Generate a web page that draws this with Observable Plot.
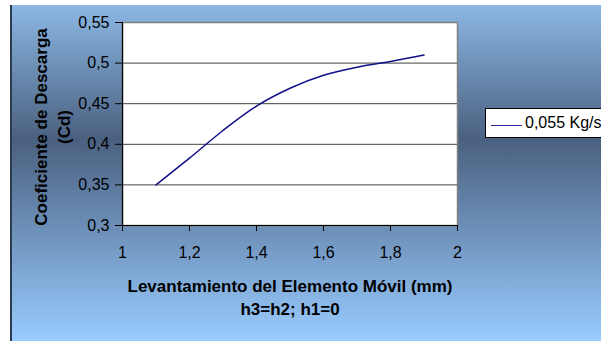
<!DOCTYPE html>
<html>
<head>
<meta charset="utf-8">
<script src="https://cdn.jsdelivr.net/npm/d3@7"></script>
<script src="https://cdn.jsdelivr.net/npm/@observablehq/plot@0.6"></script>
<style>
  html, body { margin: 0; padding: 0; background: #fff; }
  #wrap { position: relative; width: 601px; height: 341px; overflow: hidden; font-family: "Liberation Sans", Arial, sans-serif; }
  #bg { position: absolute; left: 11px; top: 5px; width: 590px; height: 336px;
        background: linear-gradient(to bottom, #8cb8e4 0%, #4a6080 40%, #99ccff 100%); }
  #edge { position: absolute; left: 10px; top: 5px; width: 2px; height: 336px; background: #2b3a4c; }
  #chart { position: absolute; left: 0; top: 0; }
  #legend { position: absolute; left: 485px; top: 108px; width: 140px; height: 30px;
            background: #fff; border: 1px solid #000; box-sizing: border-box; }
  #legend .sw { position: absolute; left: 5px; top: 16px; width: 31px; height: 0; border-top: 1.5px solid #2a2a9a; }
  #legend .lb { position: absolute; left: 39px; top: 5px; font-size: 16px; line-height: 18px; color: #000; white-space: nowrap; }
</style>
</head>
<body>
<div id="wrap">
  <div id="bg"></div>
  <div id="edge"></div>
  <div id="chart"></div>
  <div id="legend"><div class="sw"></div><div class="lb"></div></div>
</div>
<script>
// Data
const levantamiento = [1.1, 1.2, 1.3, 1.4, 1.5, 1.6, 1.7, 1.8, 1.9];
const coeficiente  = [0.350, 0.383, 0.417, 0.447, 0.469, 0.485, 0.495, 0.502, 0.510];
const seriesName = "0,055 Kg/s";
const xTicks = [1, 1.2, 1.4, 1.6, 1.8, 2];
const xTickLabels = ["1", "1,2", "1,4", "1,6", "1,8", "2"];
const yTicks = [0.3, 0.35, 0.4, 0.45, 0.5, 0.55];
const yTickLabels = ["0,3", "0,35", "0,4", "0,45", "0,5", "0,55"];
const yGrid = [0.35, 0.4, 0.45, 0.5];
const yTitle = "Coeficiente de Descarga\n(Cd)";
const xTitle = "Levantamiento del Elemento Móvil (mm)\nh3=h2; h1=0";

const data = levantamiento.map((x, i) => ({x, y: coeficiente[i]}));

const chart = Plot.plot({
  width: 601,
  height: 341,
  marginLeft: 122,
  marginRight: 144,
  marginTop: 22,
  marginBottom: 116,
  style: {background: "transparent", fontFamily: "'Liberation Sans', Arial, sans-serif", fontSize: "16px", color: "#000"},
  x: {domain: [1, 2]},
  y: {domain: [0.3, 0.55]},
  marks: [
    Plot.frame({fill: "white", stroke: "#808080", strokeWidth: 1.5}),
    Plot.gridY(yGrid, {stroke: "#404040", strokeOpacity: 1}),
    Plot.ruleX([1], {stroke: "#000", strokeWidth: 1.2}),
    Plot.ruleY([0.3], {stroke: "#000", strokeWidth: 1.2}),
    Plot.axisY(yTicks, {tickSize: 7, tickPadding: 6, tickFormat: (d) => yTickLabels[yTicks.indexOf(d)], label: null, stroke: "#000", fontSize: 16}),
    Plot.axisX(xTicks, {tickSize: 6, tickPadding: 15, tickFormat: (d) => xTickLabels[xTicks.indexOf(d)], label: null, stroke: "#000", fontSize: 16}),
    Plot.line(data, {x: "x", y: "y", curve: "monotone-x", stroke: "#10108a", strokeWidth: 1.5}),
    Plot.text([yTitle], {frameAnchor: "left", dx: -71, dy: 3, rotate: -90, text: d => d, textAnchor: "middle", fontWeight: "bold", fontSize: 17, lineHeight: 1.35, lineAnchor: "middle", fill: "#000", style: {letterSpacing: "0.6px"}}),
    Plot.text([xTitle], {frameAnchor: "bottom", dy: 71, text: d => d, textAnchor: "middle", fontWeight: "bold", fontSize: 17, lineHeight: 1.36, lineAnchor: "middle", fill: "#000"})
  ]
});
document.getElementById("chart").appendChild(chart);
document.querySelector("#legend .lb").textContent = seriesName;
</script>
</body>
</html>
